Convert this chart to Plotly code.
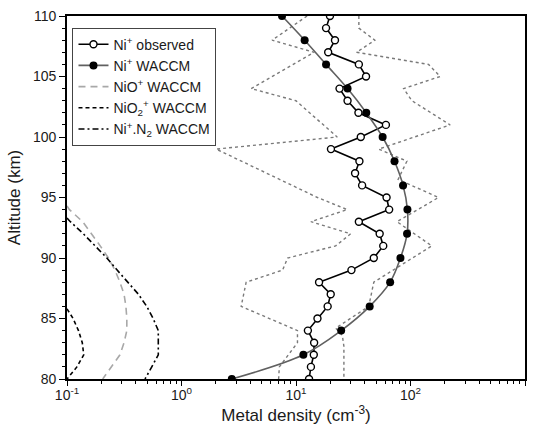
import plotly.graph_objects as go

# ---------------- data ----------------
alt_obs = [110, 109, 108, 107, 106, 105, 104, 103, 102, 101, 100, 99, 98, 97, 96, 95,
           94, 93, 92, 91, 90, 89, 88, 87, 86, 85, 84, 83, 82, 81, 80]
ni_obs = [19.8, 18.3, 21.9, 19.1, 35.4, 40.9, 24.0, 28.2, 35.1, 61.0, 36.8, 20.2, 35.8,
          32.8, 37.8, 61.8, 65.1, 35.4, 53.8, 57.8, 47.8, 30.5, 15.9, 20.1, 18.9, 15.4,
          12.7, 14.4, 14.3, 13.5, 13.0]

alt_waccm = [110, 108, 106, 104, 102, 100, 98, 96, 94, 92, 90, 88, 86, 84, 82, 80]
ni_waccm = [7.55, 11.9, 18.3, 28.2, 41.1, 57.1, 72.5, 86.1, 94.0, 93.3, 81.7, 66.4,
            44.0, 24.8, 11.6, 2.75]

alt_low = [110, 108, 107, 104, 103, 100, 99, 95, 94, 93, 92, 91, 90, 89, 88, 86, 84, 83, 81, 80]
obs_low = [12.5, 6.18, 14.4, 4.06, 9.98, 22.9, 2.01, 15.4, 28.0, 13.5, 30.0, 22.2, 8.44,
           7.64, 3.67, 3.32, 10.3, 10.3, 7.15, 7.05]

alt_high = [110, 109, 108, 107, 106, 105, 104, 103, 101, 99, 98, 96.5, 95, 93, 91, 88,
            86, 84.2, 83.6, 82.7, 80]
obs_high = [35.4, 35.4, 48.8, 33.8, 143.6, 181.6, 87.1, 102.8, 221.8, 52.8, 93.0, 78.0,
            175.4, 76.2, 153.5, 47.8, 43.2, 22.2, 25.4, 26.2, 26.2]

alt_nio = [94.3, 94, 93, 92, 91, 90, 89, 88, 87, 86, 85, 84, 83, 82, 81, 80]
nio = [0.1, 0.105, 0.137, 0.165, 0.195, 0.23, 0.262, 0.29, 0.315, 0.327, 0.333, 0.333,
       0.315, 0.29, 0.245, 0.205]

alt_nio2 = [85.8, 85, 84, 83, 82, 81, 80]
nio2 = [0.1, 0.113, 0.126, 0.136, 0.140, 0.122, 0.100]

alt_nin2 = [93.3, 93, 92, 91, 90, 89, 88, 87, 86, 85, 84, 83, 82, 81, 80]
nin2 = [0.1, 0.107, 0.139, 0.176, 0.223, 0.274, 0.338, 0.421, 0.497, 0.565, 0.627, 0.63,
        0.627, 0.55, 0.48]

x_tickvals = [0.1, 1, 10, 100, 1000]
x_ticktext = ["10<sup>-1</sup>", "10<sup>0</sup>", "10<sup>1</sup>", "10<sup>2</sup>", "10<sup>3</sup>"]
x_minor = [m * 10.0 ** e for e in (-1, 0, 1, 2) for m in (2, 3, 4, 5, 6, 7, 8, 9)]

FONT = "Liberation Sans, Arial, sans-serif"

fig = go.Figure()

for a, v in ((alt_low, obs_low), (alt_high, obs_high)):
    fig.add_trace(go.Scatter(x=v, y=a, mode="lines", showlegend=False,
                             line=dict(color="#7a7a7a", width=1.4, dash="dot")))

fig.add_trace(go.Scatter(x=ni_obs, y=alt_obs, mode="lines+markers",
                         name="Ni<sup>+</sup> observed",
                         line=dict(color="black", width=1.6),
                         marker=dict(symbol="circle", size=7, color="white",
                                     line=dict(color="black", width=1.4))))

fig.add_trace(go.Scatter(x=ni_waccm, y=alt_waccm, mode="lines+markers",
                         name="Ni<sup>+</sup> WACCM",
                         line=dict(color="#606060", width=1.6, shape="spline"),
                         marker=dict(symbol="circle", size=8, color="black")))

fig.add_trace(go.Scatter(x=nio, y=alt_nio, mode="lines", name="NiO<sup>+</sup> WACCM",
                         line=dict(color="#a8a8a8", width=1.6, dash="7px,5px")))

fig.add_trace(go.Scatter(x=nio2, y=alt_nio2, mode="lines",
                         name="NiO<sub>2</sub><sup>+</sup> WACCM",
                         line=dict(color="black", width=1.6, dash="4px,3px")))

fig.add_trace(go.Scatter(x=nin2, y=alt_nin2, mode="lines",
                         name="Ni<sup>+</sup>.N<sub>2</sub> WACCM",
                         line=dict(color="black", width=1.6, dash="6px,3px,2px,3px")))

fig.update_layout(
    width=535, height=430,
    margin=dict(l=67, r=8, t=15, b=51),
    paper_bgcolor="white", plot_bgcolor="white",
    font=dict(family=FONT, size=14, color="#1a1a1a"),
    legend=dict(x=0.012, y=0.968, xanchor="left", yanchor="top",
                bordercolor="#444", borderwidth=1, bgcolor="white",
                font=dict(family=FONT, size=14, color="#1a1a1a"),
                itemwidth=30, tracegroupgap=0),
)

fig.update_xaxes(type="log", range=[-1, 3],
                 tickmode="array", tickvals=x_tickvals, ticktext=x_ticktext,
                 ticks="outside", ticklen=5, tickwidth=1.3, tickcolor="black",
                 ticklabelstandoff=-3,
                 minor=dict(tickmode="array", tickvals=x_minor, ticks="outside",
                            ticklen=3, tickwidth=1.2, tickcolor="black", showgrid=False),
                 showline=True, linecolor="black", linewidth=1.8, mirror=True,
                 showgrid=False, zeroline=False,
                 title=dict(text="Metal density (cm<sup>-3</sup>)", standoff=0),
                 tickfont=dict(size=14))

fig.update_yaxes(range=[80, 110], tickmode="linear", tick0=80, dtick=5,
                 ticks="outside", ticklen=6, tickwidth=1.3, tickcolor="black",
                 minor=dict(dtick=1, ticks="outside", ticklen=3, tickwidth=1.2,
                            tickcolor="black", showgrid=False),
                 showline=True, linecolor="black", linewidth=1.8, mirror=True,
                 showgrid=False, zeroline=False,
                 title=dict(text="Altitude (km)", standoff=8),
                 tickfont=dict(size=14))

fig.write_html("out.html")
